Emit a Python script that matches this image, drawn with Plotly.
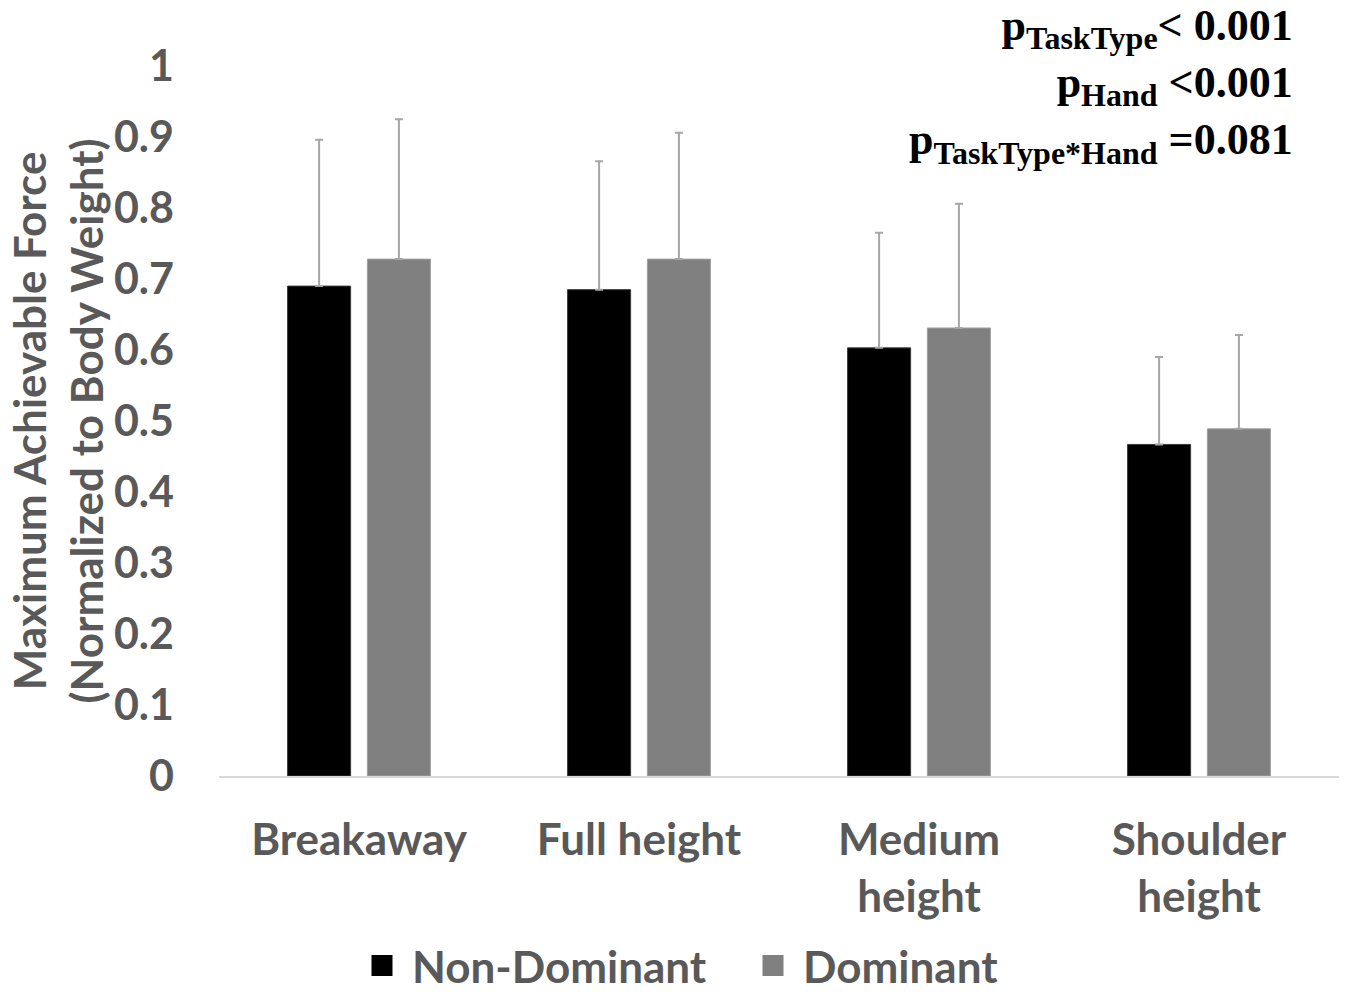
import plotly.graph_objects as go

categories = ["Breakaway", "Full height", "Medium<br>height", "Shoulder<br>height"]
nondominant_mean = [0.690, 0.685, 0.603, 0.467]
nondominant_sd = [0.206, 0.181, 0.162, 0.123]
dominant_mean = [0.728, 0.728, 0.631, 0.489]
dominant_sd = [0.197, 0.178, 0.175, 0.132]
series_names = ["Non-Dominant", "Dominant"]
y_ticks = [0, 0.1, 0.2, 0.3, 0.4, 0.5, 0.6, 0.7, 0.8, 0.9, 1]

FONT = "Lato"
GRAY = "#595959"
ERR = "#a6a6a6"

fig = go.Figure()
fig.add_trace(go.Bar(
    x=categories, y=nondominant_mean, name=series_names[0], showlegend=False,
    marker=dict(color="#000000", line=dict(color="#3a3a3a", width=1)),
    error_y=dict(type="data", symmetric=False, array=nondominant_sd,
                 arrayminus=[0] * len(nondominant_sd), color=ERR, thickness=2, width=4),
))
fig.add_trace(go.Bar(
    x=categories, y=dominant_mean, name=series_names[1], showlegend=False,
    marker=dict(color="#808080", line=dict(color="#a0a0a0", width=1)),
    error_y=dict(type="data", symmetric=False, array=dominant_sd,
                 arrayminus=[0] * len(dominant_sd), color=ERR, thickness=2, width=4),
))
# legend entries
for name, col in zip(series_names, ["#000000", "#808080"]):
    fig.add_trace(go.Scatter(
        x=[None], y=[None], mode="markers", name=name,
        marker=dict(symbol="square", size=16, color=col, line=dict(color=col, width=5)),
    ))

fig.update_layout(
    width=1347, height=992,
    margin=dict(l=219, r=8, t=66, b=216, autoexpand=False),
    plot_bgcolor="white", paper_bgcolor="white",
    barmode="group", bargap=0.43, bargroupgap=0.21,
    font=dict(family=FONT, color=GRAY, size=40),
    legend=dict(orientation="h", xref="container", yref="container",
                x=352 / 1347, xanchor="left", y=26 / 992, yanchor="middle",
                font=dict(family=FONT, size=44, color=GRAY, weight="bold"),
                itemsizing="trace", itemwidth=50, entrywidth=326),
    xaxis=dict(
        showline=True, linecolor="#d9d9d9", linewidth=1.5, showgrid=False,
        tickfont=dict(family=FONT, size=44, color=GRAY, weight="bold"),
        ticks="", ticklabelstandoff=24, automargin=False,
    ),
    yaxis=dict(
        range=[0, 1], tickvals=y_ticks, showgrid=False, zeroline=False, showline=False,
        tickfont=dict(family=FONT, size=43, color=GRAY, weight="bold"),
        ticks="", ticklabelstandoff=44, automargin=False,
    ),
)

fig.add_annotation(
    xref="paper", yref="paper", x=-0.145, y=0.5, xanchor="center", yanchor="middle",
    text="Maximum Achievable Force<br>(Normalized to Body Weight)",
    textangle=-90, showarrow=False,
    font=dict(family=FONT, size=44, color=GRAY, weight="bold"),
)

sub = '<span style="font-size:32px">{}</span>'
fig.add_annotation(
    xref="paper", yref="paper", x=0.9605, y=1.094, xanchor="right", yanchor="top",
    align="right", showarrow=False,
    text=("p<sub>" + sub.format("TaskType") + "</sub>&lt; 0.001<br>"
          "p<sub>" + sub.format("Hand") + "</sub> &lt;0.001<br>"
          "p<sub>" + sub.format("TaskType*Hand") + "</sub> =0.081"),
    font=dict(family="Liberation Serif", size=44, color="#000000", weight="bold"),
)

fig.write_html("out.html", config={"displayModeBar": False},
               post_script="document.body.style.margin='0';")
